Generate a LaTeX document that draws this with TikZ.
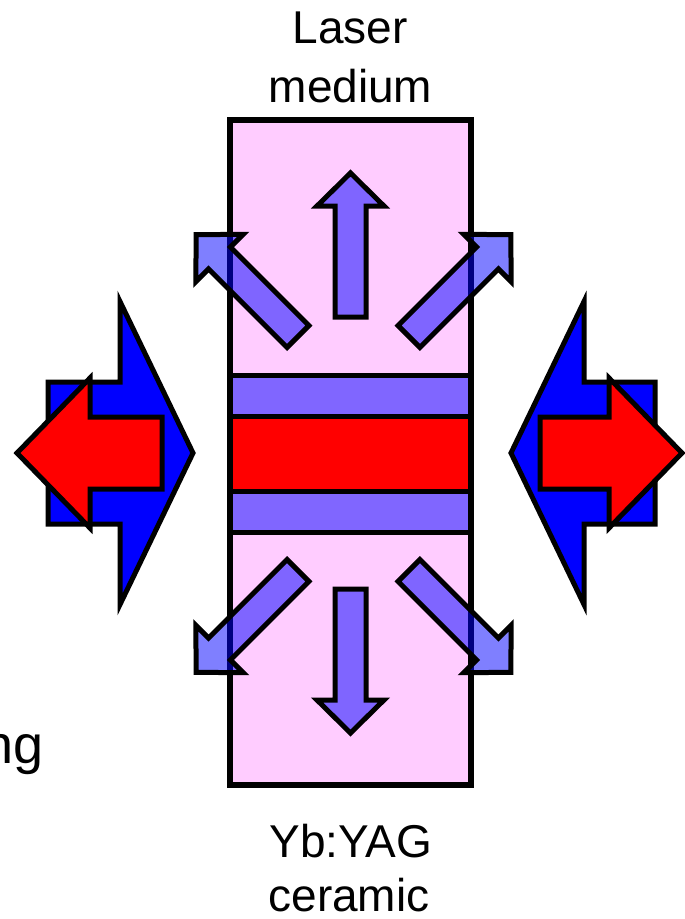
\documentclass[tikz,border=0pt]{standalone}
\usepackage{fontspec}
\setmainfont{Liberation Sans}
\definecolor{mediumpink}{RGB}{255,204,255}
\definecolor{bandviolet}{RGB}{128,102,255}
\definecolor{pureblue}{RGB}{0,0,255}
\definecolor{purered}{RGB}{255,0,0}
% block arrow along +x from (0,0): #1 length, #2 shaft half-width,
% #3 head half-width, #4 head length
\def\flowarrow#1#2#3#4{(0,-#2) -- ({#1-#4},-#2) -- ({#1-#4},-#3) -- (#1,0)
  -- ({#1-#4},#3) -- ({#1-#4},#2) -- (0,#2) -- cycle}
\tikzset{
  outline/.style={draw=black, line width=5pt, line join=miter},
  heatarrow/.style={outline, fill=pureblue, fill opacity=0.5},
  bigblue/.style={outline, fill=pureblue},
  bigred/.style={outline, fill=purered},
  label/.style={inner sep=0pt, font=\fontsize{46}{56}\selectfont, anchor=base},
}
\begin{document}
\begin{tikzpicture}[x=1pt, y=-1pt]
  \fill[white] (0,0) rectangle (685,919);
  \clip (0,0) rectangle (685,919);

  % laser medium slab with pumped layer
  \fill[mediumpink] (230,120) rectangle (471,785);
  \draw[outline, fill=bandviolet] (230,375) rectangle (471,416);
  \draw[outline, fill=purered] (230,416) rectangle (471,491);
  \draw[outline, fill=bandviolet] (230,491) rectangle (471,532);
  \draw[outline, line width=5.5pt] (230,120) rectangle (471,785);

  % heat flow arrows
  \begin{scope}[shift={(350.5,317)}, rotate=90]
    \draw[heatarrow] \flowarrow{144}{15.5}{33.5}{33};
  \end{scope}
  \begin{scope}[shift={(350.5,589)}, rotate=270]
    \draw[heatarrow] \flowarrow{144}{15.5}{33.5}{33};
  \end{scope}
  \begin{scope}[shift={(298,336.5)}, rotate=135]
    \draw[heatarrow] \flowarrow{144}{15.5}{33.5}{33};
  \end{scope}
  \begin{scope}[shift={(409,336.5)}, rotate=45]
    \draw[heatarrow] \flowarrow{144}{15.5}{33.5}{33};
  \end{scope}
  \begin{scope}[shift={(298,570.5)}, rotate=225]
    \draw[heatarrow] \flowarrow{144}{15.5}{33.5}{33};
  \end{scope}
  \begin{scope}[shift={(409,570.5)}, rotate=315]
    \draw[heatarrow] \flowarrow{144}{15.5}{33.5}{33};
  \end{scope}

  % pump in (blue) and laser out (red), left side
  \begin{scope}[shift={(48,453)}]
    \draw[bigblue] \flowarrow{145}{71}{151.5}{73};
  \end{scope}
  \begin{scope}[shift={(162,453)}, rotate=180]
    \draw[bigred] \flowarrow{145}{36}{75}{73};
  \end{scope}
  % right side
  \begin{scope}[shift={(655,453)}, rotate=180]
    \draw[bigblue] \flowarrow{144}{71}{151.5}{73};
  \end{scope}
  \begin{scope}[shift={(540,453)}]
    \draw[bigred] \flowarrow{142}{36}{75}{73};
  \end{scope}

  % labels
  \node[label] (laser) at (350,43) {Laser};
  \node[label] (medium) at (350.5,102) {medium};
  \node[label] (ybyag) at (351,857) {Yb:YAG};
  \node[label] (ceramic) at (349,911) {ceramic};
  \node[label, anchor=base east, font=\fontsize{54}{60}\selectfont] (cooling) at (44,763) {ng};
\end{tikzpicture}
\end{document}
